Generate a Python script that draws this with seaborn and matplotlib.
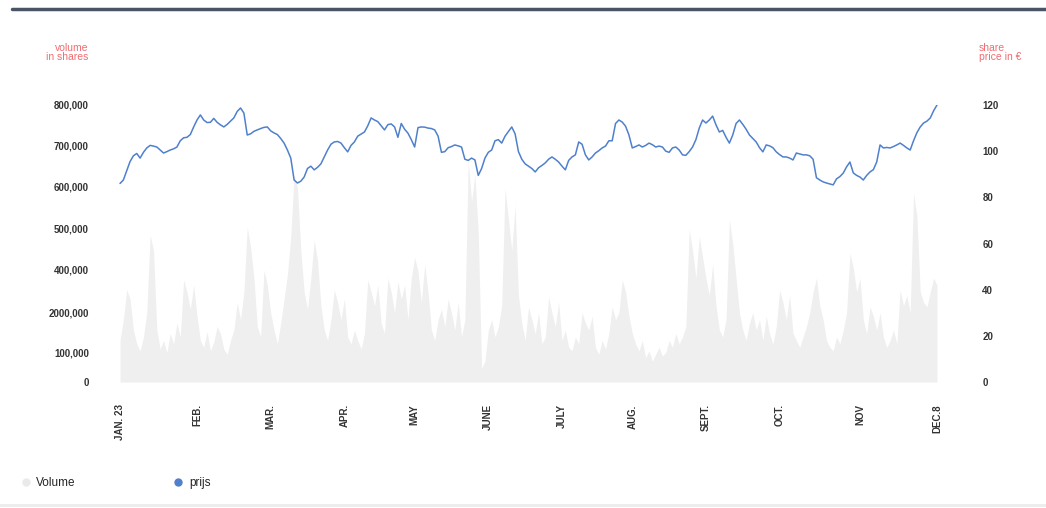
import numpy as np
import pandas as pd
import matplotlib.pyplot as plt
import seaborn as sns
from matplotlib.lines import Line2D

# daily share price in euro, Jan 2 - Dec 8 (trading days)
price = [
    86, 87.5, 91.5, 95.5, 98, 99, 97, 99.5, 101.4, 102.5,
    102.2, 101.8, 100.5, 99.2, 99.8, 100.5, 101, 101.8, 104.5, 105.8,
    106, 107.2, 110.5, 113.5, 115.7, 113.5, 112.4, 112.5, 114.2, 112.5,
    111.4, 110.5, 111.6, 113, 114.4, 117.2, 118.7, 116.5, 107, 107.5,
    108.6, 109.2, 109.8, 110.3, 110.5, 108.8, 107.9, 107.2, 105.5, 103.5,
    100.5, 97, 87.5, 86.2, 87, 88.8, 92.5, 93.5, 91.9, 93,
    94.5, 97.5, 100.5, 103, 104, 104.2, 103.5, 101.5, 99.7, 102.5,
    104, 106.5, 107.4, 108.3, 111, 114.4, 113.5, 112.8, 111, 109.2,
    111.5, 111.8, 110.5, 106, 112, 109.5, 107.8, 105, 101.8, 110.2,
    110.5, 110.4, 110, 109.8, 109.2, 106.5, 99.5, 99.8, 101.5, 102,
    102.7, 102.3, 101.8, 96.5, 96, 97, 96.2, 89.5, 92.5, 97,
    99.5, 100.5, 104.5, 105, 103.5, 106.5, 108.5, 110.5, 107.5, 99.8,
    96.5, 94.5, 93.5, 92.5, 91, 92.8, 93.8, 94.9, 96.5, 97.5,
    96.5, 95.3, 93.5, 91.9, 96, 97.5, 98.4, 104, 103, 98.4,
    96.2, 97.5, 99.2, 100.2, 101.4, 102.2, 104.5, 104.5, 112, 113.5,
    112.6, 110.8, 107, 101.4, 102, 102.7, 101.8, 102.5, 103.5, 102.8,
    101.8, 102.2, 101.8, 100, 99.5, 101.4, 101.8, 100.5, 98.4, 98.2,
    99.8, 101.8, 105, 110, 113.5, 112.2, 113.5, 115.2, 111.4, 108.3,
    109, 106, 103.5, 107, 112, 113.5, 111.6, 109.5, 107, 105.5,
    104, 101.5, 99.7, 102.7, 102.3, 101.5, 99.7, 98.5, 97.5, 97.5,
    97, 96.2, 99.2, 98.8, 98.4, 98.4, 98, 96.5, 88.5, 87.5,
    86.7, 86.2, 85.8, 85.4, 88, 89, 90.5, 93.2, 95.3, 90.6,
    89.5, 88.8, 87.5, 89.5, 91, 92, 95.3, 102.7, 101.4, 101.6,
    101.4, 102, 102.7, 103.5, 102.5, 101.4, 100.5, 104.5, 108, 110.5,
    112.2, 113, 114.4, 117.5, 120,
]

# daily volume in thousands of shares
volume_k = [
    120, 180, 266, 240, 150, 110, 90, 130, 200, 425,
    380, 150, 95, 120, 85, 140, 110, 170, 130, 295,
    260, 210, 280, 190, 120, 100, 145, 90, 115, 160,
    140, 95, 80, 120, 150, 230, 180, 260, 448, 390,
    300, 160, 130, 323, 280, 200, 150, 110, 170, 240,
    310, 420, 600, 560, 380, 260, 210, 300, 410, 350,
    220, 150, 120, 180, 266, 230, 180, 240, 130, 110,
    150, 120, 95, 140, 295, 260, 220, 280, 170, 140,
    300, 260, 200, 290, 240, 280, 180, 300, 360, 320,
    230, 340, 260, 150, 120, 180, 210, 160, 240, 200,
    150, 230, 130, 180, 640, 520, 600, 430, 40, 60,
    150, 180, 130, 160, 220, 560, 470, 380, 510, 250,
    170, 120, 217, 180, 140, 200, 110, 130, 245, 200,
    160, 230, 120, 150, 100, 90, 130, 110, 200, 170,
    150, 190, 100, 80, 120, 95, 140, 217, 180, 200,
    295, 260, 190, 140, 110, 90, 120, 70, 90, 60,
    80, 100, 75, 85, 120, 100, 140, 110, 130, 160,
    440, 380, 300, 420, 360, 300, 250, 340, 220, 150,
    130, 180, 468, 400, 300, 200, 150, 120, 170, 200,
    150, 180, 120, 190, 140, 110, 160, 266, 230, 180,
    250, 140, 120, 100, 130, 160, 200, 260, 300, 220,
    180, 120, 100, 90, 130, 110, 150, 200, 372, 330,
    260, 300, 180, 140, 217, 190, 150, 200, 130, 100,
    120, 150, 110, 266, 220, 250, 200, 545, 480, 260,
    230, 217, 260, 300, 280,
]

month_labels = ["JAN. 23", "FEB.", "MAR.", "APR.", "MAY", "JUNE", "JULY",
                "AUG.", "SEPT.", "OCT.", "NOV", "DEC.8"]
month_pos = [0, 23, 45, 67, 88, 110, 132, 153, 175, 197, 221, 244]

vol_tick_labels = ["0", "100,000", "2000,000", "400,000", "500,000",
                   "600,000", "700,000", "800,000"]
vol_tick_pos = [0, 84000, 200000, 324000, 442000, 566000, 682000, 800000]
price_ticks = [0, 20, 40, 60, 80, 100, 120]

df = pd.DataFrame({"day": np.arange(len(price)), "price": price,
                   "volume": np.array(volume_k) * 1000})

sns.set_theme(style="white")
plt.rcParams["font.family"] = ["Liberation Sans", "DejaVu Sans"]

fig = plt.figure(figsize=(10.46, 5.08), dpi=100)
ax = fig.add_axes([118 / 1046, 1 - 382 / 508, 824 / 1046, 277 / 508])

# volume area
ax.fill_between(df["day"], df["volume"], color="#efefef", lw=0)
ax.set_xlim(-0.6, 245.5)
ax.set_ylim(0, 800000)

# price line on second axis
ax2 = ax.twinx()
sns.lineplot(data=df, x="day", y="price", ax=ax2, color="#4f80cc", lw=1.1)
ax2.set_ylim(0, 120)
ax2.set_xlim(-0.6, 245.5)

for a in (ax, ax2):
    for s in a.spines.values():
        s.set_visible(False)
    a.grid(False)
    a.set_xlabel("")
    a.set_ylabel("")

ax.set_yticks(vol_tick_pos, vol_tick_labels, fontweight="bold")
ax.tick_params(axis="y", length=0, pad=21, labelsize=7, labelcolor="#333333")
ax2.set_yticks(price_ticks, [str(t) for t in price_ticks], fontweight="bold")
ax2.tick_params(axis="y", length=0, pad=29, labelsize=7, labelcolor="#333333")

ax.set_xticks(month_pos, month_labels, rotation=90, fontweight="bold")
ax.tick_params(axis="x", length=0, pad=16, labelsize=7, labelcolor="#333333")

# axis titles
fig.text(88 / 1046, 1 - 43 / 508, "volume\nin shares", ha="right", va="top",
         color="#f06c72", fontsize=7.5, linespacing=0.85)
fig.text(979 / 1046, 1 - 43 / 508, "share\nprice in €", ha="left", va="top",
         color="#f06c72", fontsize=7.5, linespacing=0.85)

# top rule and faint bottom rule
fig.add_artist(Line2D([12 / 1046, 1.0], [1 - 9 / 508] * 2, color="#4b5366", lw=2.5))
fig.add_artist(Line2D([0, 1.0], [1 - 505 / 508] * 2, color="#ececec", lw=2))

# legend
handles = [
    Line2D([], [], marker="o", ls="", color="#eaeaea", markersize=5),
    Line2D([], [], marker="o", ls="", color="#4f80cc", markersize=5),
]
fig.legend(handles, ["Volume", "prijs"], loc="center left",
           bbox_to_anchor=(9 / 1046, 1 - 483 / 508), ncol=2, frameon=False,
           fontsize=8.5, handletextpad=0.4, columnspacing=8.2, handlelength=1)

fig.savefig("out.png", dpi=100)
